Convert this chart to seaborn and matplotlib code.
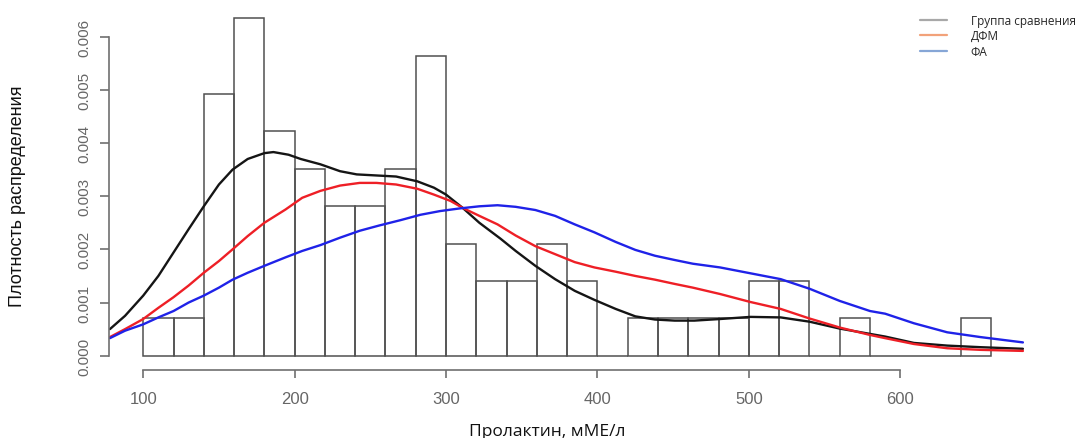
import numpy as np
import pandas as pd
import matplotlib
matplotlib.use("Agg")
import matplotlib.pyplot as plt
from matplotlib.lines import Line2D
import seaborn as sns

# Histogram of prolactin (bins of width 20), density scale
bin_left = list(range(100, 660, 20))
bin_width = 20
bin_density = [0.00071, 0.00071, 0.00493, 0.00636, 0.00422, 0.00351, 0.00282,
               0.00282, 0.00351, 0.00564, 0.00211, 0.00141, 0.00141, 0.00211,
               0.00141, 0.0, 0.00071, 0.00071, 0.00071, 0.00071, 0.00141,
               0.00141, 0.0, 0.00071, 0.0, 0.0, 0.0, 0.00071]

# Density curves per group
ctrl_x = [78, 88, 100, 110, 120, 130, 140, 150, 159, 169, 180, 186, 196, 204,
          217, 230, 241, 254, 267, 281, 292, 300, 311, 322, 336, 346, 359, 372,
          385, 398, 412, 425, 438, 451, 464, 481, 501, 521, 540, 560, 580, 590,
          609, 631, 653, 681]
ctrl_y = [0.50, 0.75, 1.13, 1.50, 1.94, 2.38, 2.81, 3.22, 3.50, 3.70, 3.81, 3.83,
          3.78, 3.70, 3.60, 3.47, 3.41, 3.39, 3.37, 3.28, 3.16, 3.03, 2.78, 2.50,
          2.20, 1.97, 1.69, 1.44, 1.22, 1.05, 0.88, 0.74, 0.68, 0.66, 0.66, 0.69,
          0.73, 0.72, 0.64, 0.51, 0.41, 0.36, 0.24, 0.19, 0.16, 0.13]

dfm_x = [78, 88, 100, 110, 120, 130, 140, 150, 159, 169, 180, 194, 205, 217, 230,
         243, 254, 267, 281, 292, 303, 311, 322, 334, 346, 359, 372, 385, 398,
         412, 425, 438, 451, 463, 481, 501, 521, 540, 560, 580, 590, 609, 631,
         653, 681]
dfm_y = [0.35, 0.50, 0.69, 0.90, 1.10, 1.32, 1.56, 1.78, 2.00, 2.25, 2.50, 2.75,
         2.97, 3.10, 3.20, 3.25, 3.25, 3.22, 3.14, 3.03, 2.91, 2.78, 2.63, 2.47,
         2.26, 2.06, 1.91, 1.76, 1.66, 1.58, 1.50, 1.43, 1.35, 1.28, 1.16, 1.01,
         0.88, 0.70, 0.53, 0.39, 0.33, 0.22, 0.14, 0.11, 0.09]

fa_x = [78, 88, 100, 110, 120, 130, 140, 150, 159, 169, 180, 194, 205, 217, 230,
        243, 256, 270, 283, 296, 309, 322, 334, 346, 359, 372, 385, 398, 412,
        425, 438, 451, 463, 481, 501, 521, 540, 560, 580, 590, 609, 631, 653, 681]
fa_y = [0.33, 0.47, 0.59, 0.72, 0.84, 1.00, 1.13, 1.28, 1.43, 1.56, 1.69, 1.85,
        1.97, 2.08, 2.22, 2.35, 2.45, 2.55, 2.65, 2.72, 2.77, 2.81, 2.83, 2.80,
        2.74, 2.63, 2.47, 2.32, 2.14, 1.99, 1.88, 1.80, 1.73, 1.66, 1.55, 1.44,
        1.26, 1.03, 0.84, 0.79, 0.61, 0.44, 0.35, 0.25]

legend_labels = ["Группа сравнения", "ДФМ", "ФА"]
legend_colors = ["#a8a8a8", "#f2a27a", "#86a6d6"]
curve_colors = ["#151515", "#ee1f26", "#1f22e8"]

x_ticks = [100, 200, 300, 400, 500, 600]
y_ticks = [0.000, 0.001, 0.002, 0.003, 0.004, 0.005, 0.006]
x_label = "Пролактин, мМЕ/л"
y_label = "Плотность распределения"

sns.set_theme(style="white")
plt.rcParams["font.family"] = ["Liberation Sans", "DejaVu Sans"]

fig = plt.figure(figsize=(10.92, 4.39), dpi=100)
W, H = 1092, 439
ax = fig.add_axes([109 / W, (H - 371) / H, (1024 - 109) / W, (371 - 5) / H])

# histogram outline
hist_df = pd.DataFrame({"mid": [b + bin_width / 2 for b in bin_left],
                        "dens": bin_density})
edges = bin_left + [bin_left[-1] + bin_width]
sns.histplot(data=hist_df, x="mid", weights="dens", bins=edges, stat="count",
             fill=False, color="#505050", linewidth=1.1, ax=ax)

# density curves
for xs, ys, c in [(ctrl_x, ctrl_y, curve_colors[0]),
                  (dfm_x, dfm_y, curve_colors[1]),
                  (fa_x, fa_y, curve_colors[2])]:
    cdf = pd.DataFrame({"x": xs, "y": [v / 1000 for v in ys]})
    sns.lineplot(data=cdf, x="x", y="y", color=c, linewidth=1.7,
                 estimator=None, sort=False, ax=ax)

ax.set_xlim(77.4, 681.7)
ax.set_ylim(-0.000269, 0.006615)

axis_gray = "#707070"
for s in ["top", "right"]:
    ax.spines[s].set_visible(False)
ax.spines["left"].set_bounds(0, 0.006)
ax.spines["bottom"].set_bounds(100, 600)
for s in ["left", "bottom"]:
    ax.spines[s].set_color(axis_gray)
    ax.spines[s].set_linewidth(1.2)

ax.set_xticks(x_ticks)
ax.set_xticklabels([str(t) for t in x_ticks])
ax.set_yticks(y_ticks)
ax.set_yticklabels([f"{t:.3f}" for t in y_ticks])
ax.tick_params(axis="x", length=6, width=1.2, color=axis_gray, pad=9,
               labelsize=12, labelcolor="#666666", bottom=True)
ax.tick_params(axis="y", length=6.5, width=1.2, color=axis_gray, pad=6,
               labelsize=11, labelcolor="#666666", left=True)
for lab in ax.get_yticklabels():
    lab.set_rotation(90)
    lab.set_verticalalignment("center")

ax.set_xlabel("")
ax.set_ylabel("")
fig.text(547 / W, 1 - 432 / H, x_label, ha="center", va="center",
         fontsize=12.5, family=["Open Sans", "DejaVu Sans"], color="#111111")
fig.text(18 / W, 1 - 196 / H, y_label, ha="center", va="center", rotation=90,
         fontsize=13, family=["Liberation Sans", "DejaVu Sans"], color="#111111")

handles = [Line2D([0], [0], color=c, linewidth=1.6) for c in legend_colors]
fig.legend(handles, legend_labels, loc="upper left",
           bbox_to_anchor=(920 / W, 1 - 15 / H), frameon=False,
           prop={"family": ["Open Sans", "DejaVu Sans"], "size": 8.5},
           handlelength=2.3, handletextpad=2.0, labelspacing=0.2,
           borderaxespad=0, borderpad=0)

fig.savefig("out.png", dpi=100)
